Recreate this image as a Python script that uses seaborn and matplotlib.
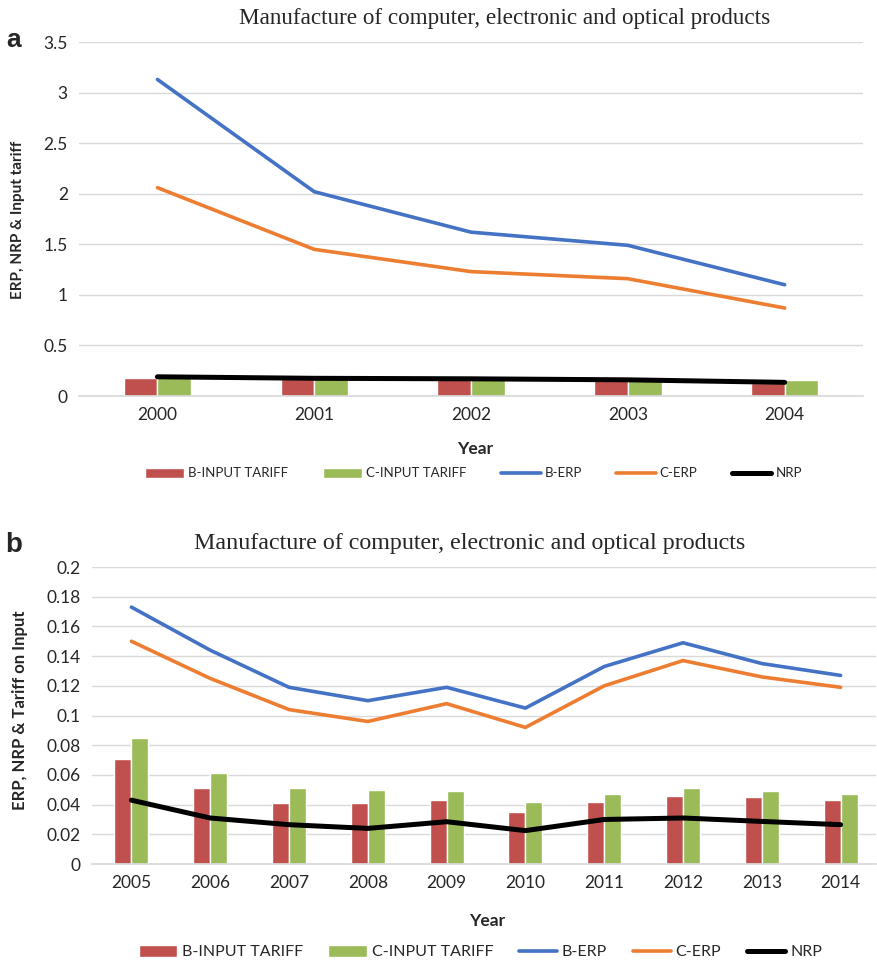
import matplotlib
matplotlib.use("Agg")
import matplotlib.pyplot as plt
import numpy as np
import pandas as pd
import seaborn as sns

# panel a data
years_a = ["2000", "2001", "2002", "2003", "2004"]
b_input_a = [0.18, 0.165, 0.17, 0.165, 0.13]
c_input_a = [0.21, 0.20, 0.20, 0.19, 0.155]
b_erp_a = [3.13, 2.02, 1.62, 1.49, 1.10]
c_erp_a = [2.06, 1.45, 1.23, 1.16, 0.87]
nrp_a = [0.19, 0.175, 0.17, 0.16, 0.135]

# panel b data
years_b = ["2005", "2006", "2007", "2008", "2009", "2010", "2011", "2012", "2013", "2014"]
b_input_b = [0.071, 0.051, 0.041, 0.041, 0.043, 0.035, 0.042, 0.046, 0.045, 0.043]
c_input_b = [0.085, 0.061, 0.051, 0.050, 0.049, 0.042, 0.047, 0.051, 0.049, 0.047]
b_erp_b = [0.173, 0.144, 0.119, 0.110, 0.119, 0.105, 0.133, 0.149, 0.135, 0.127]
c_erp_b = [0.150, 0.125, 0.104, 0.096, 0.108, 0.092, 0.120, 0.137, 0.126, 0.119]
nrp_b = [0.043, 0.031, 0.0265, 0.024, 0.0285, 0.0225, 0.030, 0.031, 0.0287, 0.0265]

RED = "#C0504D"
GREEN = "#9BBB59"
BLUE = "#4472C4"
ORANGE = "#ED7D31"
GRID = "#D9D9D9"
TXT = "#262626"
SANS = ["Lato", "DejaVu Sans"]
SERIF = ["Liberation Serif", "DejaVu Serif"]


def draw_panel(ax, years, b_in, c_in, b_erp, c_erp, nrp, ymax, ystep):
    df = pd.DataFrame({
        "year": years * 2,
        "series": ["B-INPUT TARIFF"] * len(years) + ["C-INPUT TARIFF"] * len(years),
        "value": b_in + c_in,
    })
    sns.barplot(data=df, x="year", y="value", hue="series", palette=[RED, GREEN],
                width=0.43, gap=0, saturation=1, ax=ax, legend=True)
    pos = np.arange(len(years))
    sns.lineplot(x=pos, y=b_erp, color=BLUE, lw=2.6, ax=ax, label="B-ERP")
    sns.lineplot(x=pos, y=c_erp, color=ORANGE, lw=2.6, ax=ax, label="C-ERP")
    sns.lineplot(x=pos, y=nrp, color="black", lw=3.6, ax=ax, label="NRP")

    ticks = np.round(np.arange(0, ymax + ystep / 2, ystep), 4)
    ax.set_ylim(0, ymax)
    ax.set_yticks(ticks)
    ax.set_yticklabels(["%g" % v for v in ticks])
    ax.grid(axis="y", color=GRID, lw=1)
    ax.grid(axis="x", visible=False)
    ax.set_axisbelow(True)
    for s in ["top", "right", "left"]:
        ax.spines[s].set_visible(False)
    ax.spines["bottom"].set_color(GRID)
    ax.tick_params(axis="both", length=0, colors=TXT, labelsize=12.5, pad=8)
    for lab in ax.get_xticklabels() + ax.get_yticklabels():
        lab.set_fontfamily(SANS)
    ax.set_xlabel("")
    ax.set_ylabel("")

    handles, labels = ax.get_legend_handles_labels()
    ax.get_legend().remove()
    return handles, labels


sns.set_theme(style="white")
plt.rcParams["font.family"] = ["Liberation Sans", "DejaVu Sans"]

fig = plt.figure(figsize=(8.78, 9.64), dpi=100)

# panel a
ax1 = fig.add_axes([0.090, 0.5892, 0.893, 0.3672])
h, l = draw_panel(ax1, years_a, b_input_a, c_input_a, b_erp_a, c_erp_a, nrp_a, 3.5, 0.5)
ax1.set_xlim(-0.5, 4.5)
fig.legend(h, l, loc="center", bbox_to_anchor=(0.539, 0.509), ncol=5, frameon=False,
           handlelength=3.0, handleheight=0.8, columnspacing=2.6, handletextpad=0.3,
           prop={"family": SANS, "size": 9.5})
fig.text(0.575, 0.981, "Manufacture of computer, electronic and optical products",
         ha="center", va="center", family=SERIF, fontsize=16.7)
fig.text(0.016, 0.9585, "a", ha="center", va="center", fontsize=19, fontweight="bold")
fig.text(0.541, 0.534, "Year", ha="center", va="center", fontsize=12.5, fontweight="bold",
         family=SANS)
fig.text(0.0205, 0.772, "ERP, NRP & Input tariff", ha="center", va="center", rotation=90,
         fontsize=11, fontweight="bold", family=SANS)

# panel b
ax2 = fig.add_axes([0.1048, 0.1037, 0.893, 0.3081])
h, l = draw_panel(ax2, years_b, b_input_b, c_input_b, b_erp_b, c_erp_b, nrp_b, 0.2, 0.02)
ax2.set_xlim(-0.5, 9.45)
fig.legend(h, l, loc="center", bbox_to_anchor=(0.547, 0.0124), ncol=5, frameon=False,
           handlelength=2.4, handleheight=0.8, columnspacing=1.6, handletextpad=0.3,
           prop={"family": SANS, "size": 11.5})
fig.text(0.535, 0.4367, "Manufacture of computer, electronic and optical products",
         ha="center", va="center", family=SERIF, fontsize=17.3)
fig.text(0.016, 0.4346, "b", ha="center", va="center", fontsize=20, fontweight="bold")
fig.text(0.555, 0.0446, "Year", ha="center", va="center", fontsize=12.5, fontweight="bold",
         family=SANS)
fig.text(0.0228, 0.2635, "ERP, NRP & Tariff on Input", ha="center", va="center", rotation=90,
         fontsize=12, fontweight="bold", family=SANS)

fig.savefig("out.png", dpi=100)
